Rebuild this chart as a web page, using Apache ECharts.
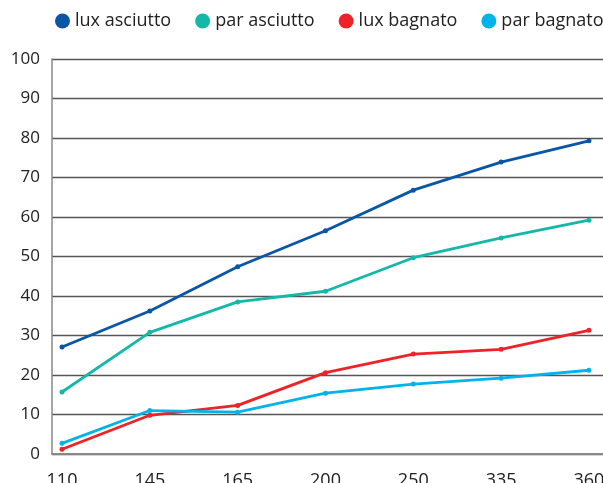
<!DOCTYPE html>
<html>
<head>
<meta charset="utf-8">
<script src="https://cdn.jsdelivr.net/npm/echarts@6/dist/echarts.min.js"></script>
<style>
  html, body { margin: 0; padding: 0; background: #fff; }
  #chart { width: 603px; height: 483px; }
</style>
</head>
<body>
<div id="chart"></div>
<script>
// categorie asse x
const categories = ['110', '145', '165', '200', '250', '335', '360']
const yTicks = [0, 10, 20, 30, 40, 50, 60, 70, 80, 90, 100]

// valori
const luxAsciutto = [27.1, 36.2, 47.4, 56.5, 66.8, 73.9, 79.3]
const parAsciutto = [15.7, 30.8, 38.5, 41.2, 49.7, 54.7, 59.2]
const luxBagnato = [1.2, 9.8, 12.3, 20.6, 25.3, 26.5, 31.3]
const parBagnato = [2.7, 11.0, 10.6, 15.4, 17.7, 19.2, 21.2]

const chart = echarts.init(document.getElementById('chart'))

const makeSeries = (name, values, color) => ({
  name,
  type: 'line',
  data: values.map((v, i) => [i, v]),
  symbol: 'circle',
  symbolSize: 5,
  lineStyle: { color, width: 2.8 },
  itemStyle: { color },
  z: 3
})

const option = {
  animation: false,
  textStyle: { fontFamily: 'Open Sans' },
  legend: {
    top: 7,
    left: 50,
    width: 553,
    icon: 'circle',
    itemWidth: 15,
    itemHeight: 15,
    itemGap: 24,
    textStyle: { fontSize: 18, color: '#222', fontFamily: 'Open Sans' },
    data: ['lux asciutto', 'par asciutto', 'lux bagnato', 'par bagnato']
  },
  grid: { left: 52, right: 0, top: 59, bottom: 29, outerBoundsMode: 'none' },
  xAxis: {
    type: 'value',
    min: -0.114, // piccolo spazio prima del primo punto
    max: 6.16,
    splitLine: { show: false },
    axisTick: { show: false },
    axisLine: { show: true, lineStyle: { color: '#888', width: 2 } },
    axisLabel: {
      customValues: categories.map((_, i) => i),
      formatter: (v) => categories[Math.round(v)],
      fontSize: 18,
      color: '#222',
      margin: 18
    }
  },
  yAxis: {
    type: 'value',
    min: 0,
    max: 100,
    interval: 10,
    axisLine: { show: true, onZero: false, lineStyle: { color: '#888', width: 1.5 } },
    axisTick: { show: false },
    axisLabel: {
      fontSize: 17,
      color: '#222',
      margin: 12,
      formatter: (v) => (yTicks.includes(v) ? String(v) : '')
    },
    splitLine: { lineStyle: { color: '#555', width: 1.4 } }
  },
  series: [
    makeSeries('lux asciutto', luxAsciutto, '#0a56a6'),
    makeSeries('par asciutto', parAsciutto, '#14b8a8'),
    makeSeries('lux bagnato', luxBagnato, '#ee2227'),
    makeSeries('par bagnato', parBagnato, '#00b4ea')
  ]
}

chart.setOption(option)
</script>
</body>
</html>
